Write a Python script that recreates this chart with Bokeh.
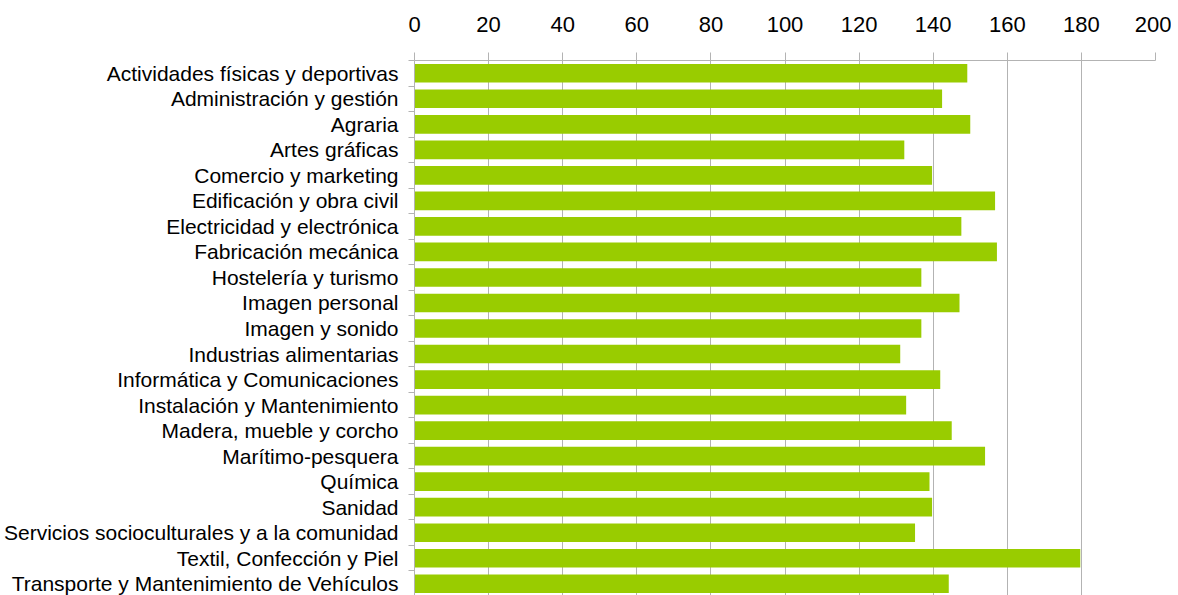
from bokeh.plotting import figure
from bokeh.models import Range1d, FixedTicker, ColumnDataSource
from bokeh.embed import file_html
from bokeh.resources import INLINE

categories = [
    "Actividades físicas y deportivas",
    "Administración y gestión",
    "Agraria",
    "Artes gráficas",
    "Comercio y marketing",
    "Edificación y obra civil",
    "Electricidad y electrónica",
    "Fabricación mecánica",
    "Hostelería y turismo",
    "Imagen personal",
    "Imagen y sonido",
    "Industrias alimentarias",
    "Informática y Comunicaciones",
    "Instalación y Mantenimiento",
    "Madera, mueble y corcho",
    "Marítimo-pesquera",
    "Química",
    "Sanidad",
    "Servicios socioculturales y a la comunidad",
    "Textil, Confección y Piel",
    "Transporte y Mantenimiento de Vehículos",
]
values = [149.2, 142.4, 150.0, 132.2, 139.7, 156.7, 147.6, 157.2, 136.8, 147.1,
          136.8, 131.1, 141.9, 132.7, 145.0, 154.0, 139.0, 139.7, 135.1, 179.7, 144.2]
x_ticks = [0, 20, 40, 60, 80, 100, 120, 140, 160, 180, 200]

n = len(categories)
idx = list(range(n))
src = ColumnDataSource(dict(y=idx, v=values, cat=categories))

FONT = "Liberation Sans"
GRID = "#b3b3b3"

p = figure(frame_width=741, frame_height=535,
           min_border_left=413, min_border_top=60, min_border_right=16, min_border_bottom=0,
           x_range=Range1d(0, 200), y_range=Range1d(20.46, -0.5),
           x_axis_location="above",
           output_backend="svg", toolbar_location=None)

p.hbar(y="y", left=0, right="v", height=0.73, source=src,
       fill_color="#99cc00", line_color=None)

p.outline_line_color = None
p.background_fill_color = "white"
p.border_fill_color = "white"

# x axis (top)
xa = p.xaxis[0]
xa.ticker = FixedTicker(ticks=x_ticks, minor_ticks=[])
xa.axis_line_color = GRID
xa.major_tick_line_color = GRID
xa.major_tick_out = 8
xa.major_tick_in = 0
xa.minor_tick_line_color = None
xa.major_label_text_font = FONT
xa.major_label_text_font_size = "22px"
xa.major_label_text_color = "black"
xa.major_label_standoff = 21

# y axis (left)
ya = p.yaxis[0]
ya.ticker = FixedTicker(ticks=idx, minor_ticks=[i - 0.5 for i in range(n + 1)])
ya.major_label_overrides = {i: c for i, c in enumerate(categories)}
ya.axis_line_color = GRID
ya.major_tick_line_color = None
ya.major_tick_out = 0
ya.major_tick_in = 0
ya.minor_tick_line_color = GRID
ya.minor_tick_out = 6
ya.minor_tick_in = 0
ya.major_label_text_font = FONT
ya.major_label_text_font_size = "21px"
ya.major_label_text_color = "black"
ya.major_label_standoff = 10

p.xgrid.ticker = FixedTicker(ticks=x_ticks)
p.xgrid.grid_line_color = GRID
p.xgrid.grid_line_width = 1
p.ygrid.grid_line_color = None

open("out.html", "w").write(file_html(p, INLINE))
